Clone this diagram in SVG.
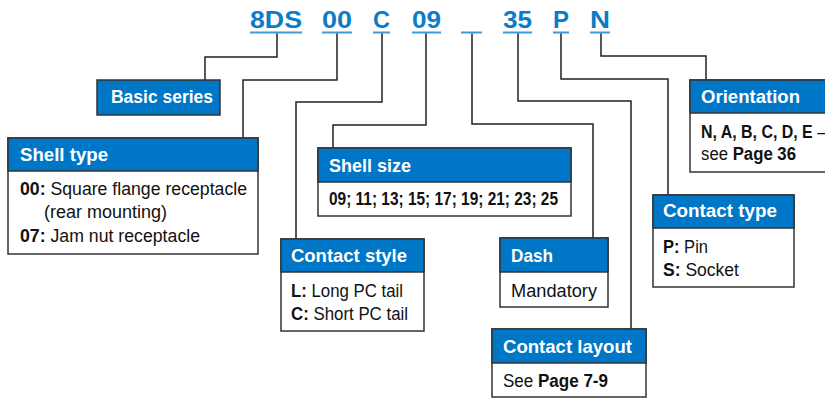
<svg xmlns="http://www.w3.org/2000/svg" width="825" height="399" viewBox="0 0 825 399">
<style>
.code{font-family:"Liberation Sans",Arial,sans-serif;font-weight:bold;font-size:23px;fill:#0A7CC8}
.ul{stroke:#3A9BDC;stroke-width:2}
.conn{fill:none;stroke:#222;stroke-width:1.5}
.box{fill:#fff;stroke:#333;stroke-width:1.5}
.hdr{fill:#0076C6;stroke:#333;stroke-width:1.5}
.ht{font-family:"Liberation Sans",Arial,sans-serif;font-weight:bold;font-size:18.5px;fill:#fff}
.bt{font-family:"Liberation Sans",Arial,sans-serif;font-size:17.5px;fill:#111}
.b{font-weight:bold}
</style>
<rect width="825" height="399" fill="#fff"/>
<g id="code">
<text class="code" x="250" y="28" textLength="52" lengthAdjust="spacingAndGlyphs">8DS</text>
<text class="code" x="322" y="28" textLength="30" lengthAdjust="spacingAndGlyphs">00</text>
<text class="code" x="373" y="28" textLength="17" lengthAdjust="spacingAndGlyphs">C</text>
<text class="code" x="412" y="28" textLength="29" lengthAdjust="spacingAndGlyphs">09</text>
<text class="code" x="503" y="28" textLength="29" lengthAdjust="spacingAndGlyphs">35</text>
<text class="code" x="553" y="28" textLength="16" lengthAdjust="spacingAndGlyphs">P</text>
<text class="code" x="590" y="28" textLength="20" lengthAdjust="spacingAndGlyphs">N</text>
<line class="ul" x1="250" y1="32.5" x2="302" y2="32.5"/>
<line class="ul" x1="322" y1="32.5" x2="352" y2="32.5"/>
<line class="ul" x1="373" y1="32.5" x2="390" y2="32.5"/>
<line class="ul" x1="412" y1="32.5" x2="441" y2="32.5"/>
<line class="ul" x1="461" y1="32.5" x2="482" y2="32.5"/>
<line class="ul" x1="503" y1="32.5" x2="532" y2="32.5"/>
<line class="ul" x1="553" y1="32.5" x2="569" y2="32.5"/>
<line class="ul" x1="590" y1="32.5" x2="610" y2="32.5"/>
</g>
<g id="connectors">
<polyline class="conn" points="277,33.5 277,57 205,57 205,80"/>
<polyline class="conn" points="337,33.5 337,80 243,80 243,138"/>
<polyline class="conn" points="382,33.5 382,102 296,102 296,239"/>
<polyline class="conn" points="426,33.5 426,125 333,125 333,148"/>
<polyline class="conn" points="472,33.5 472,124 593,124 593,238"/>
<polyline class="conn" points="518,33.5 518,101 631,101 631,329"/>
<polyline class="conn" points="561,33.5 561,79 668,79 668,195"/>
<polyline class="conn" points="601,33.5 601,56 706,56 706,80"/>
</g>
<g id="basic-series">
<rect class="hdr" x="97" y="80" width="123" height="35"/>
<text class="ht" x="111" y="103" textLength="102" lengthAdjust="spacingAndGlyphs">Basic series</text>
</g>
<g id="shell-type">
<rect class="box" x="8" y="138" width="250" height="116"/>
<rect class="hdr" x="8" y="138" width="250" height="33"/>
<text class="ht" x="20" y="161" textLength="88" lengthAdjust="spacingAndGlyphs">Shell type</text>
<text class="bt" x="20" y="195" textLength="227" lengthAdjust="spacingAndGlyphs"><tspan class="b">00:</tspan> Square flange receptacle</text>
<text class="bt" x="44" y="218" textLength="123" lengthAdjust="spacingAndGlyphs">(rear mounting)</text>
<text class="bt" x="20" y="242" textLength="180" lengthAdjust="spacingAndGlyphs"><tspan class="b">07:</tspan> Jam nut receptacle</text>
</g>
<g id="shell-size">
<rect class="box" x="318" y="148" width="253" height="68"/>
<rect class="hdr" x="318" y="148" width="253" height="34"/>
<text class="ht" x="329" y="172" textLength="82" lengthAdjust="spacingAndGlyphs">Shell size</text>
<text class="bt b" x="329" y="205" textLength="229" lengthAdjust="spacingAndGlyphs">09; 11; 13; 15; 17; 19; 21; 23; 25</text>
</g>
<g id="contact-style">
<rect class="box" x="281" y="239" width="143" height="92"/>
<rect class="hdr" x="281" y="239" width="143" height="33"/>
<text class="ht" x="291" y="262" textLength="116" lengthAdjust="spacingAndGlyphs">Contact style</text>
<text class="bt" x="291" y="297" textLength="112" lengthAdjust="spacingAndGlyphs"><tspan class="b">L:</tspan> Long PC tail</text>
<text class="bt" x="291" y="320" textLength="117" lengthAdjust="spacingAndGlyphs"><tspan class="b">C:</tspan> Short PC tail</text>
</g>
<g id="dash">
<rect class="box" x="500" y="238" width="108" height="69"/>
<rect class="hdr" x="500" y="238" width="108" height="34"/>
<text class="ht" x="511" y="262" textLength="42" lengthAdjust="spacingAndGlyphs">Dash</text>
<text class="bt" x="511" y="297" textLength="86" lengthAdjust="spacingAndGlyphs">Mandatory</text>
</g>
<g id="contact-layout">
<rect class="box" x="492" y="329" width="154" height="68"/>
<rect class="hdr" x="492" y="329" width="154" height="34"/>
<text class="ht" x="503" y="353" textLength="129" lengthAdjust="spacingAndGlyphs">Contact layout</text>
<text class="bt" x="503" y="387" textLength="105" lengthAdjust="spacingAndGlyphs">See <tspan class="b">Page 7-9</tspan></text>
</g>
<g id="orientation">
<rect class="box" x="690" y="80" width="145" height="92"/>
<rect class="hdr" x="690" y="80" width="145" height="33"/>
<text class="ht" x="701" y="103" textLength="99" lengthAdjust="spacingAndGlyphs">Orientation</text>
<text class="bt" x="701" y="138" textLength="125" lengthAdjust="spacingAndGlyphs"><tspan class="b">N, A, B, C, D, E</tspan> –</text>
<text class="bt" x="701" y="160" textLength="95" lengthAdjust="spacingAndGlyphs">see <tspan class="b">Page 36</tspan></text>
</g>
<g id="contact-type">
<rect class="box" x="653" y="195" width="141" height="92"/>
<rect class="hdr" x="653" y="195" width="141" height="33"/>
<text class="ht" x="663" y="217" textLength="114" lengthAdjust="spacingAndGlyphs">Contact type</text>
<text class="bt" x="663" y="253" textLength="45" lengthAdjust="spacingAndGlyphs"><tspan class="b">P:</tspan> Pin</text>
<text class="bt" x="663" y="276" textLength="76" lengthAdjust="spacingAndGlyphs"><tspan class="b">S:</tspan> Socket</text>
</g>
</svg>
